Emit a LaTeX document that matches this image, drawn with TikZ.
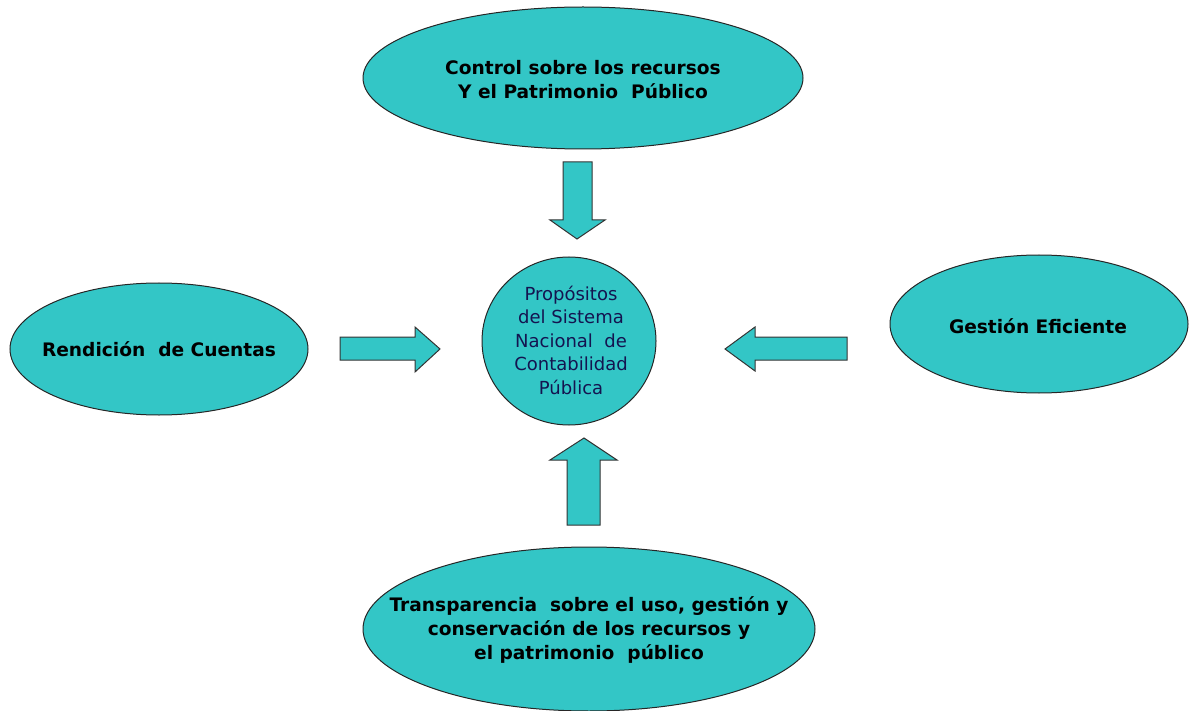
\documentclass[tikz,border=0pt]{standalone}
\usepackage{fontspec}
\setmainfont{DejaVu Sans}
\usetikzlibrary{shapes.geometric}
\definecolor{teal1}{RGB}{51,198,198}
\definecolor{navy1}{RGB}{20,20,80}
\tikzset{
  bubble/.style={ellipse, draw=black!85, line width=1pt, fill=teal1, inner sep=0pt},
  bigtxt/.style={font=\fontsize{18.6}{24}\selectfont\bfseries, align=center, text=black},
  midtxt/.style={font=\fontsize{18}{23.5}\selectfont, align=center, text=navy1},
  blockarrow/.style={draw=black!80, line width=1pt, fill=teal1, line join=miter}
}
\begin{document}
\begin{tikzpicture}[x=1pt,y=-1pt]
\useasboundingbox (0,0) rectangle (1191,711);
% ellipses
\node[bubble, minimum width=440, minimum height=142] (top) at (583,78) {};
\node[bigtxt] (toptxt) at (583,80) {Control sobre los recursos\\ Y el Patrimonio\ \ Público};
\node[bubble, minimum width=174, minimum height=168] (ctr) at (569,341) {};
\node[midtxt] (ctrtxt) at (571,340) {Propósitos\\del Sistema\\Nacional\ \ de\\Contabilidad\\Pública};
\node[bubble, minimum width=298, minimum height=132] (left) at (159,349) {};
\node[bigtxt] (lefttxt) at (159,349) {Rendición\ \ de Cuentas};
\node[bubble, minimum width=298, minimum height=138] (right) at (1039,324) {};
\node[bigtxt] (righttxt) at (1038,326) {Gestión\ Eficiente};
\node[bubble, minimum width=452, minimum height=164] (bot) at (589,629) {};
\node[bigtxt] (bottxt) at (589,630) {Transparencia\ \ sobre el uso, gestión y\\conservación de los recursos y\\el patrimonio\ \ público};
% block arrows
\draw[blockarrow] (563,162) -- (592,162) -- (592,220) -- (605,220) -- (577,239) -- (550,220) -- (563,220) -- cycle;
\draw[blockarrow] (567,525) -- (600,525) -- (600,460) -- (617,460) -- (584,438) -- (550,460) -- (567,460) -- cycle;
\draw[blockarrow] (340,337) -- (415,337) -- (415,327) -- (440,349) -- (415,372) -- (415,360) -- (340,360) -- cycle;
\draw[blockarrow] (847,337) -- (755,337) -- (755,327) -- (725,349) -- (755,371) -- (755,360) -- (847,360) -- cycle;
\end{tikzpicture}
\end{document}
